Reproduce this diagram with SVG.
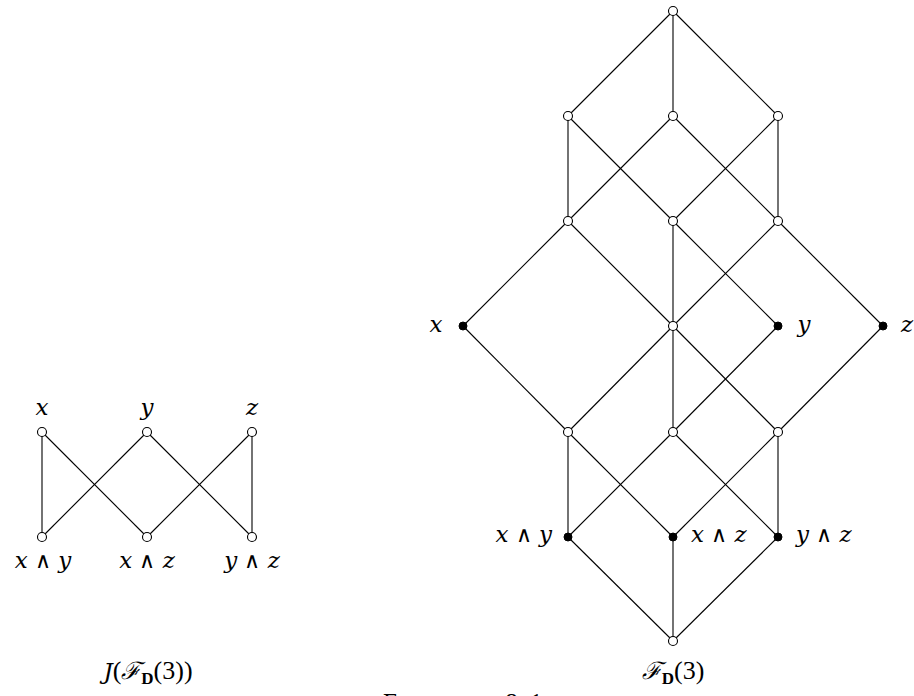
<svg xmlns="http://www.w3.org/2000/svg" width="914" height="696" viewBox="0 0 914 696">
<style>
  .e { stroke: #000; stroke-width: 1.1; fill: none; }
  .o { fill: #fff; stroke: #000; stroke-width: 1.1; }
  .f { fill: #000; stroke: #000; stroke-width: 1; }
  .t { font-family: "DejaVu Serif", "Liberation Serif", serif; font-style: italic; font-size: 23px; fill: #000; }
  .r { font-family: "Liberation Serif", "DejaVu Serif", serif; font-style: normal; font-size: 26px; }
  .w { font-family: "DejaVu Sans", sans-serif; font-style: normal; font-weight: 200; font-size: 22px; }
  .s { font-family: "DejaVu Serif", "Liberation Serif", serif; font-style: italic; font-size: 24px; }
  .b { font-family: "Liberation Serif", serif; font-style: normal; font-weight: bold; font-size: 17px; }
  .cap { font-family: "Liberation Serif", "DejaVu Serif", serif; font-size: 25px; font-variant: small-caps; letter-spacing: 3px; word-spacing: 26px; fill: #000; }
</style>
<rect width="914" height="696" fill="#fff"/>
<g id="connectors">
  <line class="e" x1="42" y1="432" x2="42" y2="537"/>
  <line class="e" x1="42" y1="432" x2="147" y2="537"/>
  <line class="e" x1="147" y1="432" x2="42" y2="537"/>
  <line class="e" x1="147" y1="432" x2="252" y2="537"/>
  <line class="e" x1="252" y1="432" x2="147" y2="537"/>
  <line class="e" x1="252" y1="432" x2="252" y2="537"/>
  <line class="e" x1="673" y1="11" x2="568" y2="116"/>
  <line class="e" x1="673" y1="11" x2="673" y2="116"/>
  <line class="e" x1="673" y1="11" x2="778" y2="116"/>
  <line class="e" x1="568" y1="116" x2="568" y2="221"/>
  <line class="e" x1="568" y1="116" x2="673" y2="221"/>
  <line class="e" x1="673" y1="116" x2="568" y2="221"/>
  <line class="e" x1="673" y1="116" x2="778" y2="221"/>
  <line class="e" x1="778" y1="116" x2="673" y2="221"/>
  <line class="e" x1="778" y1="116" x2="778" y2="221"/>
  <line class="e" x1="568" y1="221" x2="463" y2="326"/>
  <line class="e" x1="568" y1="221" x2="673" y2="326"/>
  <line class="e" x1="673" y1="221" x2="673" y2="326"/>
  <line class="e" x1="673" y1="221" x2="778" y2="326"/>
  <line class="e" x1="778" y1="221" x2="673" y2="326"/>
  <line class="e" x1="778" y1="221" x2="883" y2="326"/>
  <line class="e" x1="463" y1="326" x2="568" y2="432"/>
  <line class="e" x1="673" y1="326" x2="568" y2="432"/>
  <line class="e" x1="673" y1="326" x2="673" y2="432"/>
  <line class="e" x1="673" y1="326" x2="778" y2="432"/>
  <line class="e" x1="778" y1="326" x2="673" y2="432"/>
  <line class="e" x1="883" y1="326" x2="778" y2="432"/>
  <line class="e" x1="568" y1="432" x2="568" y2="537"/>
  <line class="e" x1="568" y1="432" x2="673" y2="537"/>
  <line class="e" x1="673" y1="432" x2="568" y2="537"/>
  <line class="e" x1="673" y1="432" x2="778" y2="537"/>
  <line class="e" x1="778" y1="432" x2="673" y2="537"/>
  <line class="e" x1="778" y1="432" x2="778" y2="537"/>
  <line class="e" x1="568" y1="537" x2="673" y2="641"/>
  <line class="e" x1="673" y1="537" x2="673" y2="641"/>
  <line class="e" x1="778" y1="537" x2="673" y2="641"/>
</g>
<g id="Lx"><circle class="o" cx="42" cy="432" r="4.5"/><text class="t" x="42" y="415" text-anchor="middle">x</text></g>
<g id="Ly"><circle class="o" cx="147" cy="432" r="4.5"/><text class="t" x="147" y="415" text-anchor="middle">y</text></g>
<g id="Lz"><circle class="o" cx="252" cy="432" r="4.5"/><text class="t" x="252" y="415" text-anchor="middle">z</text></g>
<g id="Lxy"><circle class="o" cx="42" cy="537" r="4.5"/><text class="t" x="43" y="568" text-anchor="middle">x <tspan class="w">∧</tspan> y</text></g>
<g id="Lxz"><circle class="o" cx="147" cy="537" r="4.5"/><text class="t" x="147" y="568" text-anchor="middle">x <tspan class="w">∧</tspan> z</text></g>
<g id="Lyz"><circle class="o" cx="252" cy="537" r="4.5"/><text class="t" x="252" y="568" text-anchor="middle">y <tspan class="w">∧</tspan> z</text></g>
<g id="top"><circle class="o" cx="673" cy="11" r="4.5"/></g>
<g id="r2a"><circle class="o" cx="568" cy="116" r="4.5"/></g>
<g id="r2b"><circle class="o" cx="673" cy="116" r="4.5"/></g>
<g id="r2c"><circle class="o" cx="778" cy="116" r="4.5"/></g>
<g id="r3a"><circle class="o" cx="568" cy="221" r="4.5"/></g>
<g id="r3b"><circle class="o" cx="673" cy="221" r="4.5"/></g>
<g id="r3c"><circle class="o" cx="778" cy="221" r="4.5"/></g>
<g id="Rx"><circle class="f" cx="463" cy="326" r="4"/><text class="t" x="436" y="332" text-anchor="middle">x</text></g>
<g id="r4m"><circle class="o" cx="673" cy="326" r="4.5"/></g>
<g id="Ry"><circle class="f" cx="778" cy="326" r="4"/><text class="t" x="804" y="332" text-anchor="middle">y</text></g>
<g id="Rz"><circle class="f" cx="883" cy="326" r="4"/><text class="t" x="907" y="332" text-anchor="middle">z</text></g>
<g id="r5a"><circle class="o" cx="568" cy="432" r="4.5"/></g>
<g id="r5b"><circle class="o" cx="673" cy="432" r="4.5"/></g>
<g id="r5c"><circle class="o" cx="778" cy="432" r="4.5"/></g>
<g id="Rxy"><circle class="f" cx="568" cy="537" r="4"/><text class="t" x="552" y="542" text-anchor="end">x <tspan class="w">∧</tspan> y</text></g>
<g id="Rxz"><circle class="f" cx="673" cy="537" r="4"/><text class="t" x="691" y="542">x <tspan class="w">∧</tspan> z</text></g>
<g id="Ryz"><circle class="f" cx="778" cy="537" r="4"/><text class="t" x="796" y="542">y <tspan class="w">∧</tspan> z</text></g>
<g id="bottom"><circle class="o" cx="673" cy="641" r="4.5"/></g>
<g id="captionL"><text class="t" x="148" y="679" text-anchor="middle">J<tspan class="r">(</tspan><tspan class="s">ℱ</tspan><tspan class="b" dy="5">D</tspan><tspan class="r" dy="-5">(3))</tspan></text></g>
<g id="captionR"><text class="t" x="673" y="679" text-anchor="middle"><tspan class="s">ℱ</tspan><tspan class="b" dy="5">D</tspan><tspan class="r" dy="-5">(3)</tspan></text></g>
<g id="figure"><text class="cap" x="383" y="711">Figure 8.1</text></g>
</svg>
